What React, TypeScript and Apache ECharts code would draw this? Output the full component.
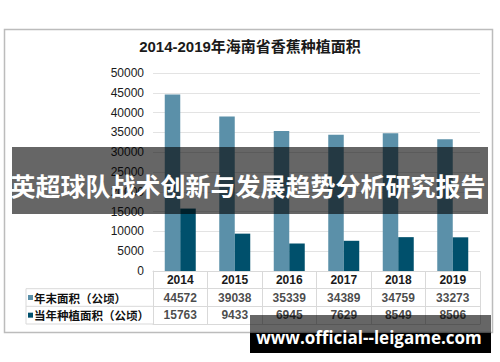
import React, { useEffect, useRef } from "react";
import * as echarts from "echarts";

const years = ["2014", "2015", "2016", "2017", "2018", "2019"];
const seriesNames = ["年末面积（公顷）", "当年种植面积（公顷）"];
const yearEndArea = [44572, 39038, 35339, 34389, 34759, 33273];
const plantedArea = [15763, 9433, 6945, 7629, 8549, 8506];
const colors = ["#5b90a9", "#00506c"];
const titleText = "2014-2019年海南省香蕉种植面积";
const bannerText = "英超球队战术创新与发展趋势分析研究报告";
const watermarkText = "www.official--leigame.com";

const FONT = '"Liberation Sans", Arial, "Noto Sans CJK SC", sans-serif';

export default function App() {
  const ref = useRef<HTMLDivElement>(null);
  useEffect(() => {
    if (!ref.current) return;
    const chart = echarts.init(ref.current, undefined, { renderer: "svg" });
    const values = [yearEndArea, plantedArea];
    const rowCats = [seriesNames[1], seriesNames[0], ""];
    const tableData: any[] = [];
    values.forEach((arr, si) => {
      arr.forEach((v, i) => {
        tableData.push([i, si === 0 ? 1 : 0, v]);
      });
    });
    const lineColor = "#d9d9d9";
    chart.setOption({
      animation: false,
      backgroundColor: "#ffffff",
      title: {
        text: titleText,
        left: "center",
        top: 39,
        padding: 0,
        textStyle: { fontSize: 15, fontWeight: "bold", color: "#1a1a1a", fontFamily: FONT },
      },
      grid: [
        { left: 153, right: 20, top: 73, height: 198 },
        { left: 153, right: 20, top: 271, height: 53 },
      ],
      xAxis: [
        {
          type: "category",
          gridIndex: 0,
          data: years,
          axisLine: { show: true, lineStyle: { color: lineColor } },
          axisTick: { show: false },
          axisLabel: {
            margin: 8.5,
            verticalAlign: "middle",
            fontSize: 12,
            fontWeight: "bold",
            color: "#1a1a1a",
            fontFamily: FONT,
          },
        },
        {
          type: "category",
          gridIndex: 1,
          data: years,
          axisLine: { show: true, lineStyle: { color: lineColor } },
          axisTick: { show: false },
          axisLabel: { show: false },
          splitLine: { show: true, lineStyle: { color: lineColor } },
        },
      ],
      yAxis: [
        {
          type: "value",
          gridIndex: 0,
          min: 0,
          max: 50000,
          interval: 5000,
          axisLine: { show: false },
          axisTick: { show: false },
          axisLabel: {
            margin: 9,
            fontSize: 12,
            color: "#1a1a1a",
            fontFamily: FONT,
            formatter: (v: number) => String(v),
          },
          splitLine: { show: true, lineStyle: { color: "#e3e3e3" } },
        },
        {
          type: "category",
          gridIndex: 1,
          data: rowCats,
          axisLine: { show: true, lineStyle: { color: lineColor } },
          axisTick: { show: false },
          splitLine: { show: true, lineStyle: { color: lineColor } },
          axisLabel: {
            align: "left",
            margin: 125,
            formatter: (v: string) => {
              if (v === seriesNames[0]) return "{a|}{t|" + v + "}";
              if (v === seriesNames[1]) return "{b|}{t|" + v + "}";
              return "";
            },
            rich: {
              a: { width: 5, height: 5, backgroundColor: colors[0] },
              b: { width: 5, height: 5, backgroundColor: colors[1] },
              t: {
                fontSize: 11.5,
                fontWeight: "bold",
                color: "#111111",
                padding: [0, 0, 0, 1],
                fontFamily: '"Noto Sans CJK SC", sans-serif',
              },
            },
          },
        },
      ],
      series: [
        {
          name: seriesNames[0],
          type: "bar",
          xAxisIndex: 0,
          yAxisIndex: 0,
          data: yearEndArea,
          barWidth: 15.5,
          barGap: "0%",
          itemStyle: { color: colors[0] },
        },
        {
          name: seriesNames[1],
          type: "bar",
          xAxisIndex: 0,
          yAxisIndex: 0,
          data: plantedArea,
          barWidth: 15.5,
          barGap: "0%",
          itemStyle: { color: colors[1] },
        },
        {
          type: "scatter",
          xAxisIndex: 1,
          yAxisIndex: 1,
          symbolSize: 0,
          data: tableData,
          label: {
            show: true,
            position: "inside",
            formatter: (p: any) => String(p.value[2]),
            fontSize: 12,
            fontWeight: "bold",
            color: "#1a1a1a",
            fontFamily: FONT,
          },
        },
      ],
      graphic: [
        {
          type: "rect",
          shape: { x: 4.5, y: 29.5, width: 488, height: 303 },
          style: { fill: "none", stroke: "#bcbcbc", lineWidth: 1.5 },
          silent: true,
        },
        { type: "line", shape: { x1: 26, y1: 288.7, x2: 153, y2: 288.7 }, style: { stroke: lineColor, lineWidth: 1 } },
        { type: "line", shape: { x1: 26, y1: 306.3, x2: 153, y2: 306.3 }, style: { stroke: lineColor, lineWidth: 1 } },
        { type: "line", shape: { x1: 26, y1: 324, x2: 153, y2: 324 }, style: { stroke: lineColor, lineWidth: 1 } },
        { type: "line", shape: { x1: 26, y1: 288.7, x2: 26, y2: 324 }, style: { stroke: lineColor, lineWidth: 1 } },
        {
          type: "rect",
          z: 100,
          shape: { x: 12, y: 147, width: 476, height: 67 },
          style: { fill: "rgba(0,0,0,0.6)" },
        },
        {
          type: "text",
          z: 101,
          x: 248,
          y: 185,
          style: {
            text: bannerText,
            fill: "#ffffff",
            fontSize: 25,
            fontWeight: "bold",
            fontFamily: '"Noto Sans CJK SC", sans-serif',
            align: "center",
            verticalAlign: "middle",
          },
        },
        {
          type: "rect",
          z: 100,
          shape: { x: 250, y: 315, width: 241, height: 18 },
          style: { fill: "rgba(0,0,0,0.6)" },
        },
        {
          type: "rect",
          z: 100,
          shape: { x: 250, y: 333, width: 241, height: 20 },
          style: { fill: "#000000" },
        },
        {
          type: "text",
          z: 101,
          x: 369,
          y: 337,
          style: {
            text: watermarkText,
            fill: "#ffffff",
            fontSize: 17,
            fontWeight: "bold",
            fontFamily: '"Open Sans", sans-serif',
            align: "center",
            verticalAlign: "middle",
          },
        },
      ],
    });
    return () => chart.dispose();
  }, []);
  return (
    <div
      ref={ref}
      style={{ position: "fixed", left: 0, top: 0, width: 500, height: 362 }}
    />
  );
}
